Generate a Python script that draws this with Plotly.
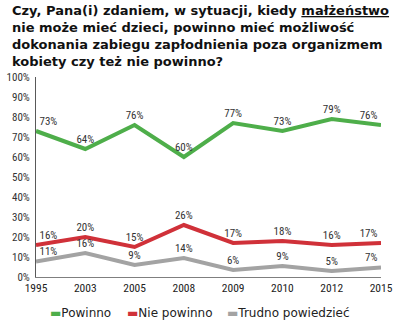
import plotly.graph_objects as go

years = ["1995", "2003", "2005", "2008", "2009", "2010", "2012", "2015"]
powinno = [73, 64, 76, 60, 77, 73, 79, 76]
nie_powinno = [16, 20, 15, 26, 17, 18, 16, 17]
# gray line as drawn in the picture, and its printed labels
trudno_drawn = [7.7, 12, 6, 9.5, 3.5, 5.5, 3, 4.7]
trudno_labels = [11, 16, 9, 14, 6, 9, 5, 7]
yticks = [0, 10, 20, 30, 40, 50, 60, 70, 80, 90, 100]
series_names = ["Powinno", "Nie powinno", "Trudno powiedzieć"]

GREEN = "#4EAE4A"
RED = "#D03139"
GRAY = "#A3A3A3"
colors = [GREEN, RED, GRAY]
NARROW = "Liberation Sans Narrow, Arial Narrow, Roboto Condensed, Liberation Sans, sans-serif"

W, H = 400, 324
ML, MR, MT, MB = 29, 7, 77, 47
PW, PH = W - ML - MR, H - MT - MB

n = len(years)
pos = ["top right"] + ["top center"] * (n - 2) + ["top left"]

fig = go.Figure()
for vals, labels, color, name in [
    (powinno, powinno, GREEN, series_names[0]),
    (nie_powinno, nie_powinno, RED, series_names[1]),
    (trudno_drawn, trudno_labels, GRAY, series_names[2]),
]:
    fig.add_trace(go.Scatter(
        x=list(range(n)), y=vals, mode="lines+markers+text", name=name,
        line=dict(color=color, width=4),
        marker=dict(size=4, color="rgba(0,0,0,0)"),
        text=[f"{v}%" for v in labels], textposition=pos,
        textfont=dict(family=NARROW, size=11, color="#333333"),
        cliponaxis=False, showlegend=False, hoverinfo="skip"))

annotations = [dict(
    text="Czy, Pana(i) zdaniem, w sytuacji, kiedy <u>małżeństwo</u><br>"
         "nie może mieć dzieci, powinno mieć możliwość<br>"
         "dokonania zabiegu zapłodnienia poza organizmem<br>"
         "kobiety czy też nie powinno?",
    font=dict(family="DejaVu Sans", size=13, color="#111111", weight="bold"),
    xref="paper", yref="paper", x=(2 - ML) / PW, y=(MT - 1) / PH + 1,
    xanchor="left", yanchor="top", align="left", showarrow=False)]

# legend built from text entries
leg_x = [42, 123, 228]
for name, color, px in zip(series_names, colors, leg_x):
    annotations.append(dict(
        text=f"<span style='color:{color}'>▬</span>{name}",
        font=dict(family="DejaVu Sans", size=12, color="#222222"),
        xref="paper", yref="paper", x=(px - ML) / PW, y=(H - MB - 313) / PH,
        xanchor="left", yanchor="middle", showarrow=False))

fig.update_layout(
    width=W, height=H,
    margin=dict(l=ML, r=MR, t=MT, b=MB),
    paper_bgcolor="white", plot_bgcolor="white",
    showlegend=False,
    annotations=annotations,
    xaxis=dict(
        tickmode="array", tickvals=list(range(n)), ticktext=years,
        range=[0, n - 1], showgrid=False, zeroline=False,
        showline=True, linecolor="#7F7F7F", linewidth=1,
        ticks="", ticklabeloverflow="allow",
        tickfont=dict(family=NARROW, size=11.5, color="#222222")),
    yaxis=dict(
        tickmode="array", tickvals=yticks, ticktext=[f"{v}%" for v in yticks],
        range=[0, 100], showgrid=False, zeroline=False,
        showline=True, linecolor="#595959", linewidth=1,
        ticks="", ticklabelstandoff=3,
        tickfont=dict(family=NARROW, size=11, color="#333333")),
)

fig.write_html("out.html")
